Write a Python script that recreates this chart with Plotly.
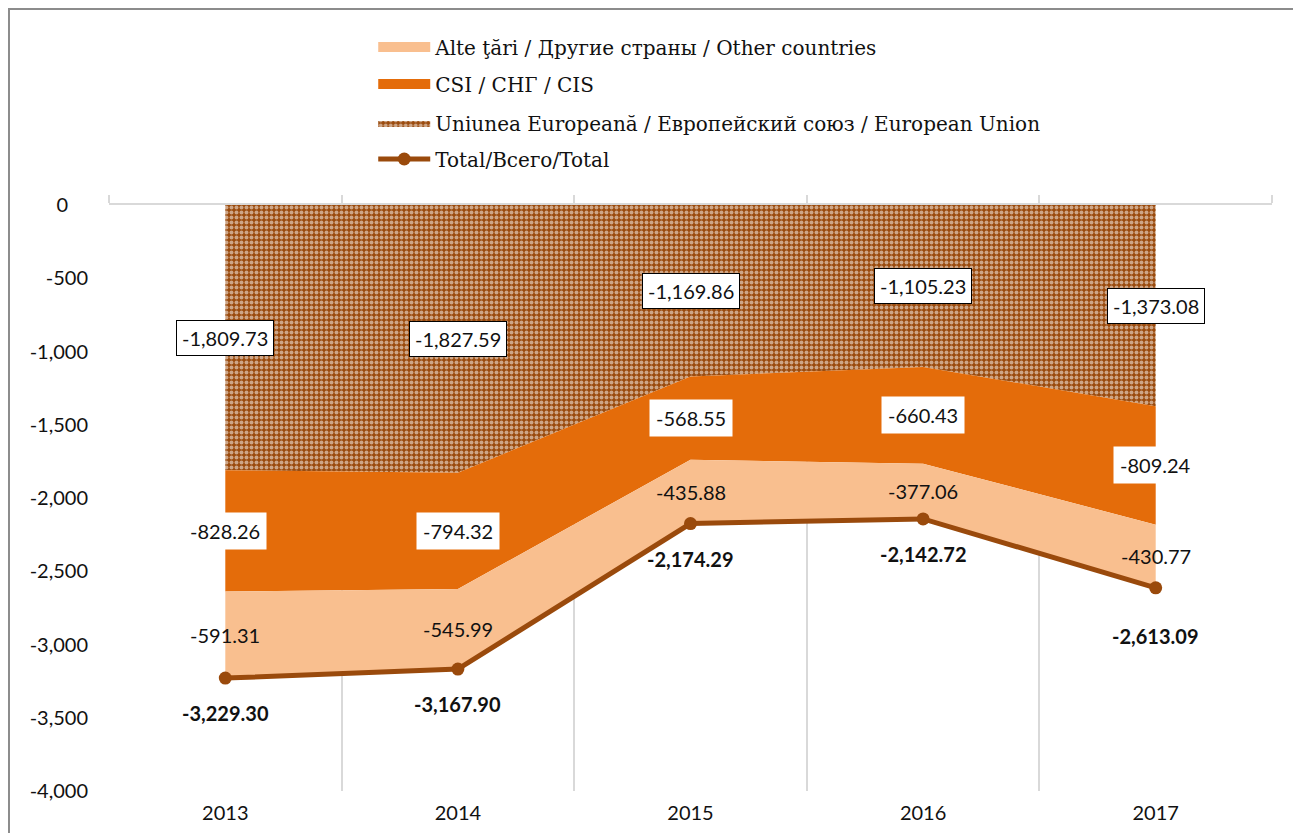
import plotly.graph_objects as go

years = ["2013", "2014", "2015", "2016", "2017"]
eu = [-1809.73, -1827.59, -1169.86, -1105.23, -1373.08]
cis = [-828.26, -794.32, -568.55, -660.43, -809.24]
others = [-591.31, -545.99, -435.88, -377.06, -430.77]
total = [-3229.30, -3167.90, -2174.29, -2142.72, -2613.09]
y_ticks = [0, -500, -1000, -1500, -2000, -2500, -3000, -3500, -4000]
y_ticktext = ["0\u2002\u2002", "-500", "-1,000", "-1,500", "-2,000", "-2,500",
              "-3,000", "-3,500", "-4,000"]

name_oth = "Alte ţări / Другие страны / Other countries"
name_cis = "CSI / СНГ / CIS"
name_eu = "Uniunea Europeană / Европейский союз / European Union"
name_tot = "Total/Всего/Total"

C_OTH = "#F9BF8F"
C_CIS = "#E46C0A"
C_EU = "#9A4A0C"
C_TOT = "#9A4A0C"
LBL = "Lato"
LEG = "DejaVu Serif"
TXT = "#111111"


def fmt(v, bold=False):
    s = f"{v:,.2f}"
    return f"<b>{s}</b>" if bold else s


fig = go.Figure()

fig.add_trace(go.Scatter(
    x=years, y=eu, name=name_eu, stackgroup="s", mode="lines",
    line=dict(width=0, color=C_EU), fillcolor=C_EU,
    fillpattern=dict(shape=".", fgcolor="white", bgcolor=C_EU, size=5, solidity=0.5),
    legend="legend3", hoverinfo="skip"))
fig.add_trace(go.Scatter(
    x=years, y=cis, name=name_cis, stackgroup="s", mode="lines",
    line=dict(width=0, color=C_CIS), fillcolor=C_CIS,
    showlegend=False, hoverinfo="skip"))
fig.add_trace(go.Scatter(
    x=years, y=others, name=name_oth, stackgroup="s", mode="lines",
    line=dict(width=0, color=C_OTH), fillcolor=C_OTH,
    showlegend=False, hoverinfo="skip"))
fig.add_trace(go.Scatter(
    x=years, y=total, name=name_tot, mode="lines+markers",
    line=dict(width=5, color=C_TOT), marker=dict(size=13, color=C_TOT),
    legend="legend4", hoverinfo="skip"))
# legend-only swatches for the solid areas
fig.add_trace(go.Scatter(x=[None], y=[None], name=name_oth, mode="lines",
                         line=dict(width=13, color=C_OTH), legend="legend"))
fig.add_trace(go.Scatter(x=[None], y=[None], name=name_cis, mode="lines",
                         line=dict(width=13, color=C_CIS), legend="legend2"))
# invisible helper trace for the top axis (ticks at category boundaries)
fig.add_trace(go.Scatter(
    x=years, y=total, xaxis="x2", mode="lines", line=dict(width=0),
    opacity=0, showlegend=False, hoverinfo="skip"))

ann = []
for i, yr in enumerate(years):
    ann.append(dict(xref="x", yref="y", x=i, y=eu[i] / 2, text=fmt(eu[i]), showarrow=False,
                    font=dict(family=LBL, size=20, color=TXT),
                    bgcolor="white", bordercolor="#000000", borderwidth=1,
                    borderpad=5))
    ann.append(dict(xref="x", yref="y", x=i, y=eu[i] + cis[i] / 2, text=fmt(cis[i]),
                    showarrow=False, font=dict(family=LBL, size=20, color=TXT),
                    bgcolor="white", borderpad=6))
    ann.append(dict(xref="x", yref="y", x=i, y=eu[i] + cis[i] + others[i] / 2,
                    text=fmt(others[i]), showarrow=False,
                    font=dict(family=LBL, size=20, color=TXT)))
    shift = -48 if i == 4 else -35
    ann.append(dict(xref="x", yref="y", x=i, y=total[i], text=fmt(total[i], True),
                    showarrow=False, yshift=shift,
                    font=dict(family=LBL, size=20, color=TXT)))

legend_common = dict(xanchor="left", yanchor="middle", bgcolor="rgba(0,0,0,0)",
                     font=dict(family=LEG, size=20, color=TXT), itemwidth=52,
                     orientation="v")
lx = 0.2272

fig.update_layout(
    width=1301, height=833,
    margin=dict(l=101, r=37, t=197, b=50),
    paper_bgcolor="white", plot_bgcolor="white",
    showlegend=True,
    legend=dict(x=lx, y=1.2696, **legend_common),
    legend2=dict(x=lx, y=1.2065, **legend_common),
    legend3=dict(x=lx, y=1.1399, **legend_common),
    legend4=dict(x=lx, y=1.0785, **legend_common),
    xaxis=dict(type="category", categoryorder="array", categoryarray=years,
               range=[-0.5, 4.5], tickson="boundaries", showgrid=True,
               gridcolor="#D9D9D9", gridwidth=2, ticks="", showline=False,
               zeroline=False, tickfont=dict(family=LBL, size=20, color=TXT),
               ticklabelstandoff=8),
    xaxis2=dict(type="category", categoryorder="array", categoryarray=years,
                overlaying="x", side="top", range=[-0.5, 4.5], tickson="boundaries",
                showgrid=False, showticklabels=False, ticks="outside", ticklen=8,
                tickwidth=2, tickcolor="#D9D9D9", showline=True, linecolor="#D9D9D9",
                linewidth=2),
    yaxis=dict(range=[-4000, 0], tickvals=y_ticks, ticktext=y_ticktext, showgrid=False,
               zeroline=False, showline=False, ticks="",
               tickfont=dict(family=LBL, size=20, color=TXT), ticklabelstandoff=20),
    annotations=ann,
    shapes=[dict(type="rect", xref="paper", yref="paper", x0=-0.0860, x1=1.0193,
                 y0=-0.12, y1=1.3345, line=dict(color="#8C8C8C", width=2),
                 fillcolor="rgba(0,0,0,0)", layer="below")],
)

fig.write_html("out.html")
